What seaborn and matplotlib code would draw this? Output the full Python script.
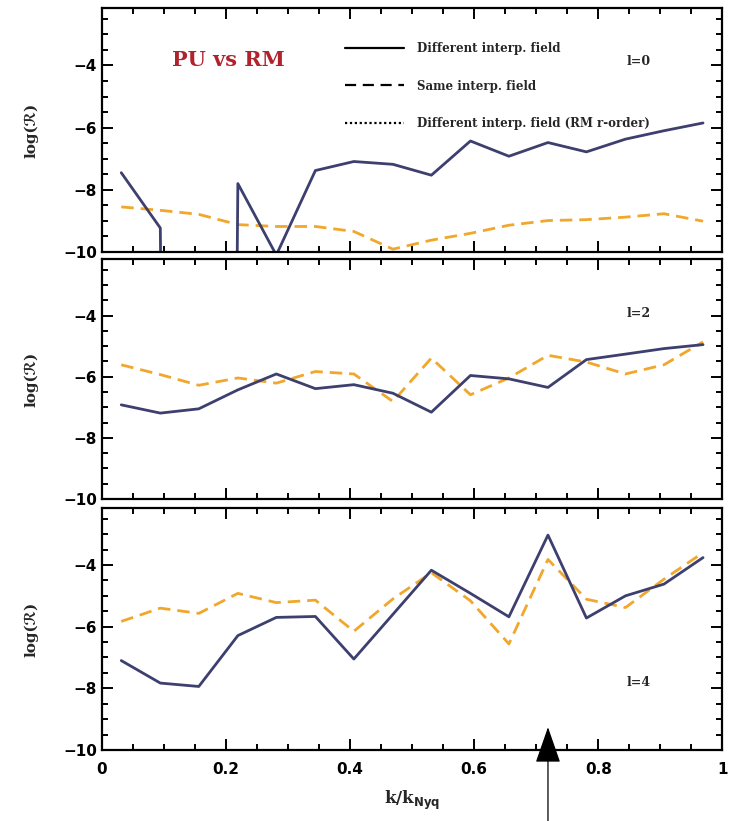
import numpy as np
import pandas as pd
import matplotlib
matplotlib.use("Agg")
import matplotlib.pyplot as plt
from matplotlib.lines import Line2D
from matplotlib.ticker import MultipleLocator, FuncFormatter
import seaborn as sns

# k / k_Nyq bin centres
k = [0.031, 0.094, 0.156, 0.219, 0.281, 0.344, 0.406, 0.469,
     0.531, 0.594, 0.656, 0.719, 0.781, 0.844, 0.906, 0.969]

# log of relative difference, PU vs RM, per multipole
# (the l=0 bin at k=0.156 is far below the plotted range)
l0_diff = [-7.45, -9.23, -150.0, -7.80, -10.1, -7.38, -7.09, -7.18,
           -7.53, -6.43, -6.92, -6.48, -6.78, -6.37, -6.10, -5.85]
l0_same = [-8.55, -8.66, -8.79, -9.12, -9.18, -9.18, -9.34, -9.91,
           -9.62, -9.40, -9.14, -8.99, -8.96, -8.88, -8.77, -9.01]
l2_diff = [-6.92, -7.19, -7.05, -6.43, -5.91, -6.39, -6.26, -6.54,
           -7.16, -5.96, -6.07, -6.35, -5.44, -5.26, -5.08, -4.95]
l2_same = [-5.61, -5.93, -6.28, -6.04, -6.21, -5.83, -5.91, -6.81,
           -5.39, -6.59, -6.04, -5.30, -5.52, -5.91, -5.61, -4.86]
l4_diff = [-7.10, -7.83, -7.94, -6.29, -5.70, -5.67, -7.05, -5.60,
           -4.17, -4.92, -5.68, -3.03, -5.72, -5.00, -4.62, -3.76]
l4_same = [-5.83, -5.40, -5.57, -4.92, -5.22, -5.14, -6.15, -5.10,
           -4.25, -5.16, -6.56, -3.82, -5.11, -5.38, -4.46, -3.60]

panel_labels = ["l=0", "l=2", "l=4"]
legend_labels = ["Different interp. field", "Same interp. field",
                 "Different interp. field (RM r-order)"]
xticks = [0, 0.2, 0.4, 0.6, 0.8, 1]
yticks = [-4, -6, -8, -10]
arrow_k = 0.719

sns.set_style("ticks")
plt.rcParams["font.family"] = ["DejaVu Sans"]

SOLID = "#3d3f6e"
DASH = "#f1a72c"

fig = plt.figure(figsize=(7.34, 8.21), dpi=100)
left, width = 0.139, 0.845
boxes = [(0.6931, 0.2972), (0.3922, 0.2923), (0.0865, 0.2948)]
axes = [fig.add_axes([left, b, width, h]) for b, h in boxes]

series = [(l0_diff, l0_same), (l2_diff, l2_same), (l4_diff, l4_same)]

for i, (ax, (diff, same)) in enumerate(zip(axes, series)):
    df = pd.DataFrame({"k": k, "diff": diff, "same": same})
    sns.lineplot(data=df, x="k", y="same", ax=ax, color=DASH, lw=2.0,
                 estimator=None, sort=False)
    ax.lines[-1].set_dashes((4.5, 2.5))
    sns.lineplot(data=df, x="k", y="diff", ax=ax, color=SOLID, lw=2.0,
                 estimator=None, sort=False)
    ax.set_xlim(0, 1)
    ax.set_ylim(-10, -2.15)
    ax.set_xticks(xticks)
    ax.xaxis.set_minor_locator(MultipleLocator(0.05))
    ax.set_yticks(yticks)
    ax.yaxis.set_minor_locator(MultipleLocator(0.5))
    ax.tick_params(which="both", direction="in", top=True, right=True,
                   width=1.4, colors="black")
    ax.tick_params(which="major", length=8)
    ax.tick_params(which="minor", length=4.5)
    for s in ax.spines.values():
        s.set_linewidth(1.6)
        s.set_color("black")
    ax.yaxis.set_major_formatter(FuncFormatter(lambda v, p: f"\u2212{abs(int(v))}"))
    for lab in ax.get_yticklabels():
        lab.set_fontweight("bold")
        lab.set_fontsize(11)
    ax.set_ylabel("log(ℛ)", fontsize=11, fontweight="bold", labelpad=18,
                  family=["DejaVu Serif", "DejaVu Sans"])
    ax.set_xlabel("")
    if i < 2:
        ax.set_xticklabels([])
    ypos = [0.78, 0.775, 0.277][i]
    ax.text(0.865, ypos, panel_labels[i], transform=ax.transAxes,
            fontsize=9, fontweight="bold", family="DejaVu Serif",
            ha="center", va="center")

ax3 = axes[2]
ax3.xaxis.set_major_formatter(FuncFormatter(lambda v, p: f"{v:g}"))
for lab in ax3.get_xticklabels():
    lab.set_fontweight("bold")
    lab.set_fontsize(11)
ax3.tick_params(axis="x", pad=9)
ax3.set_xlabel(r"k/k$_{\mathbf{Nyq}}$", fontsize=12, fontweight="bold",
               family="DejaVu Serif", labelpad=8)

ax1 = axes[0]
ax1.text(0.113, 0.787, "PU vs RM", transform=ax1.transAxes, color="#b0222c",
         fontsize=15, fontweight="bold", family="DejaVu Serif", va="center")
handles = [Line2D([], [], color="black", lw=1.6, ls="-"),
           Line2D([], [], color="black", lw=1.6, ls=(0, (5, 3))),
           Line2D([], [], color="black", lw=1.6, ls=(0, (1, 1.2)))]
leg = ax1.legend(handles, legend_labels, loc="upper left",
                 bbox_to_anchor=(0.375, 0.905), frameon=False,
                 handlelength=5.0, handletextpad=1.1, labelspacing=2.1,
                 prop={"family": "DejaVu Serif", "weight": "bold", "size": 8.5})

# arrow marking the k of the l=4 spike
ax3.annotate("", xy=(arrow_k, -9.26), xycoords="data",
             xytext=(arrow_k, 0.0), textcoords=("data", "figure fraction"),
             annotation_clip=False,
             arrowprops=dict(arrowstyle="-|>,head_length=2.3,head_width=0.8",
                             color="black", lw=0.9, shrinkA=0, shrinkB=0,
                             mutation_scale=10))

fig.savefig("out.png", dpi=100)
